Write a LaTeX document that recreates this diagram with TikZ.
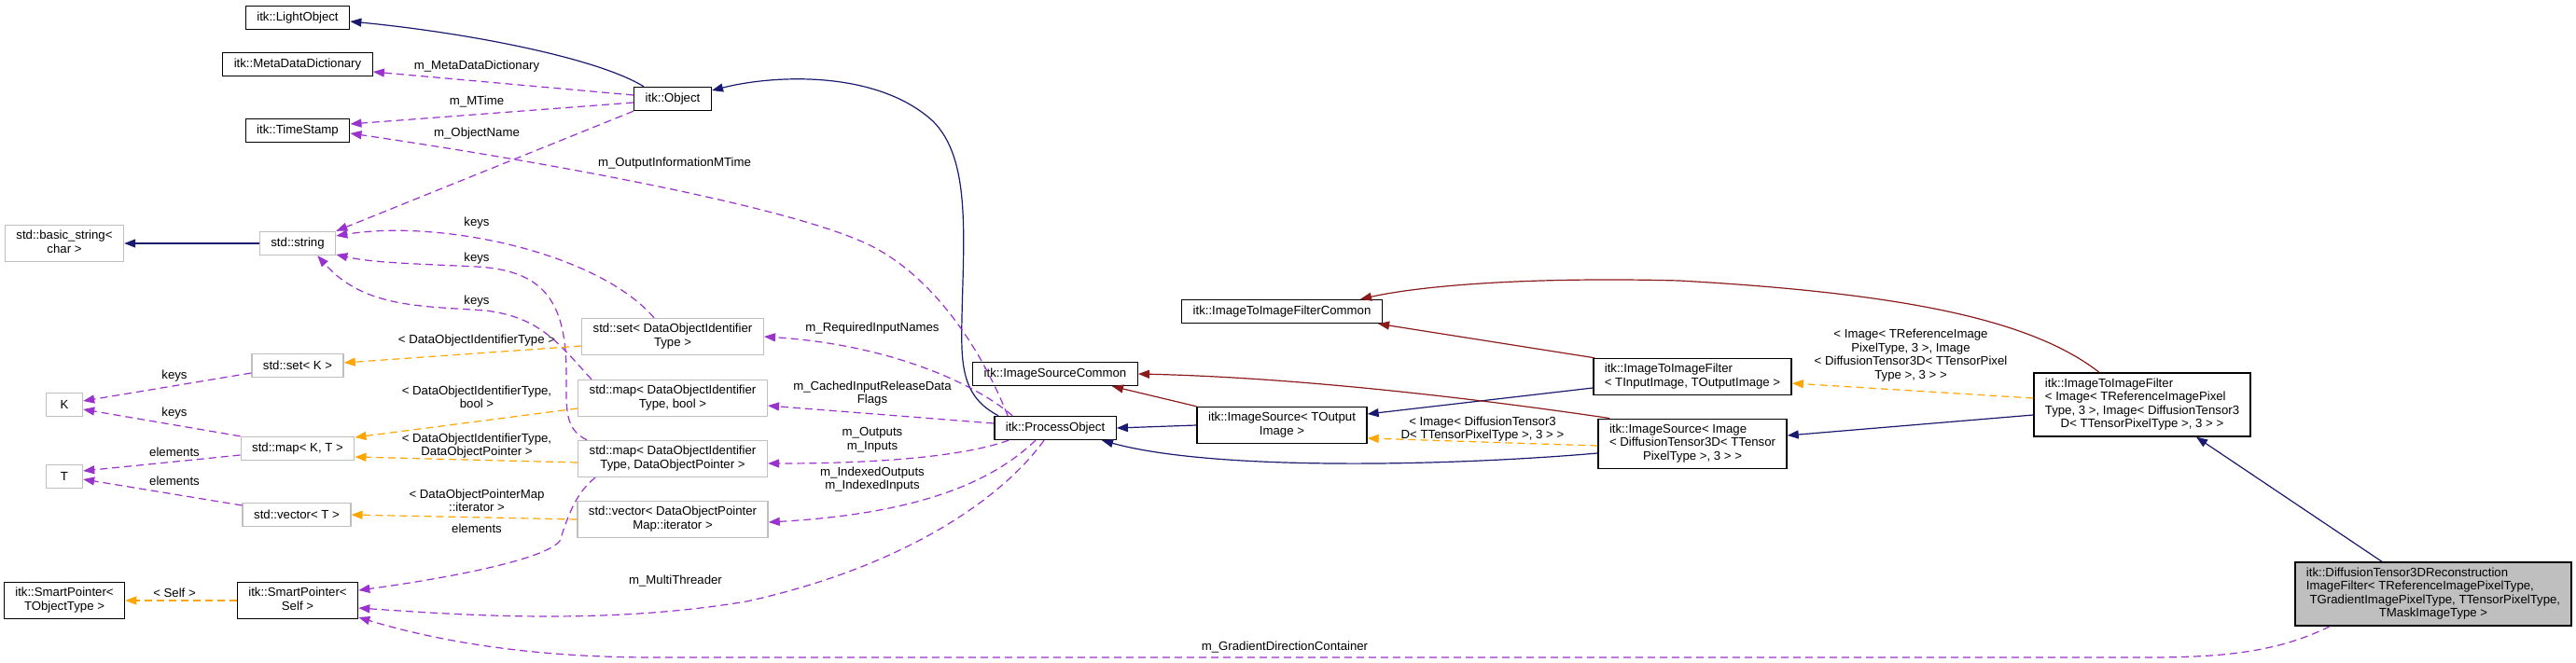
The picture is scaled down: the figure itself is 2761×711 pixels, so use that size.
\documentclass[tikz,border=0pt]{standalone}
\usepackage{fontspec}
\setmainfont{Liberation Sans}
\usetikzlibrary{arrows.meta}
\definecolor{inhblue}{HTML}{191970}
\definecolor{privred}{HTML}{8B1A1A}
\definecolor{usepurple}{HTML}{9A32CD}
\definecolor{tplorange}{HTML}{FFA500}
\definecolor{undocgray}{HTML}{BFBFBF}
% class name: first lines left, last line centred
\newcommand{\cname}[2]{\begin{tabular}{@{}l@{}}#1\\\multicolumn{1}{@{}c@{}}{#2}\end{tabular}}
\tikzset{
  cls/.style={draw=black, line width=1.4pt, fill=white, inner xsep=12pt, inner ysep=5pt, minimum height=25pt},
  undoc/.style={cls, draw=undocgray},
  cur/.style={cls, fill=undocgray},
  lbl/.style={inner sep=0pt, align=center},
  link/.style={line width=1.2pt, -{Triangle[length=12pt,width=9pt]}},
  inh/.style={link, inhblue},
  priv/.style={link, privred},
  uses/.style={link, usepurple, dash pattern=on 8pt off 5pt},
  tpl/.style={link, tplorange, dash pattern=on 8pt off 5pt}
}
\begin{document}
\begin{tikzpicture}[x=1pt, y=-1pt, font=\fontsize{13.2pt}{14.5pt}\selectfont]
  \useasboundingbox[fill=white] (0,0) rectangle (2761,711);
  % classes
  \node[cls] (light) at (319,19) {itk::LightObject};
  \node[cls] (mdd) at (319,69) {itk::MetaDataDictionary};
  \node[cls] (ts) at (319,140) {itk::TimeStamp};
  \node[undoc] (bstr) at (69,261) {\cname{std::basic\_string<}{char >}};
  \node[undoc] (str) at (319,261) {std::string};
  \node[cls] (obj) at (721,106) {itk::Object};
  \node[undoc] (setk) at (319,392) {std::set< K >};
  \node[undoc, minimum width=39pt] (K) at (69,434) {K};
  \node[undoc] (mapkt) at (319,481) {std::map< K, T >};
  \node[undoc, minimum width=39pt] (T) at (69,511) {T};
  \node[undoc] (vect) at (318,552) {std::vector< T >};
  \node[cls] (spt) at (69,644) {\cname{itk::SmartPointer<}{TObjectType >}};
  \node[cls] (sps) at (319,644) {\cname{itk::SmartPointer<}{Self >}};
  \node[undoc] (setdoi) at (721,361) {\cname{std::set< DataObjectIdentifier}{Type >}};
  \node[undoc] (mapbool) at (721,427) {\cname{std::map< DataObjectIdentifier}{Type, bool >}};
  \node[undoc] (mapdop) at (721,492) {\cname{std::map< DataObjectIdentifier}{Type, DataObjectPointer >}};
  \node[undoc] (vecdop) at (721,557) {\cname{std::vector< DataObjectPointer}{Map::iterator >}};
  \node[cls] (isc) at (1131,401) {itk::ImageSourceCommon};
  \node[cls] (po) at (1131,459) {itk::ProcessObject};
  \node[cls] (isout) at (1374,456) {\cname{itk::ImageSource< TOutput}{Image >}};
  \node[cls] (itifc) at (1374,334) {itk::ImageToImageFilterCommon};
  \node[cls] (itif) at (1814,404) {\cname{itk::ImageToImageFilter}{< TInputImage, TOutputImage >}};
  \node[cls] (isimg) at (1814,476) {\cname{itk::ImageSource< Image\\< DiffusionTensor3D< TTensor}{PixelType >, 3 > >}};
  \node[cls] (bigitif) at (2296,434) {\cname{itk::ImageToImageFilter\\< Image< TReferenceImagePixel\\Type, 3 >, Image< DiffusionTensor3}{D< TTensorPixelType >, 3 > >}};
  \node[cur] (dti) at (2608,637) {\cname{itk::DiffusionTensor3DReconstruction\\ImageFilter< TReferenceImagePixelType,\\\ TGradientImagePixelType, TTensorPixelType,}{TMaskImageType >}};

  % edge labels
  \node[lbl] (lMdd) at (511,71) {m\_MetaDataDictionary};
  \node[lbl] (lMTime) at (511,109) {m\_MTime};
  \node[lbl] (lObjName) at (511,143) {m\_ObjectName};
  \node[lbl] (lOutInfo) at (723,175) {m\_OutputInformationMTime};
  \node[lbl] (lKeysA) at (511,239) {keys};
  \node[lbl] (lKeysB) at (511,277) {keys};
  \node[lbl] (lKeysC) at (511,323) {keys};
  \node[lbl] (lSetK) at (511,365) {< DataObjectIdentifierType >};
  \node[lbl] (lMapBool) at (511,426) {< DataObjectIdentifierType,\\ bool >};
  \node[lbl] (lMapDop) at (511,478) {< DataObjectIdentifierType,\\ DataObjectPointer >};
  \node[lbl] (lVecDop) at (511,537) {< DataObjectPointerMap\\ ::iterator >};
  \node[lbl] (lElem) at (511,567) {elements};
  \node[lbl] (lKeysK) at (187,403) {keys};
  \node[lbl] (lKeysKT) at (187,443) {keys};
  \node[lbl] (lElemKT) at (187,485) {elements};
  \node[lbl] (lElemT) at (187,516) {elements};
  \node[lbl] (lSelf) at (187,636) {< Self >};
  \node[lbl] (lReqIn) at (935,352) {m\_RequiredInputNames};
  \node[lbl] (lCached) at (935,422) {m\_CachedInputReleaseData\\Flags};
  \node[lbl] (lOutIn) at (935,472) {m\_Outputs\\m\_Inputs};
  \node[lbl] (lIdx) at (935,514) {m\_IndexedOutputs\\m\_IndexedInputs};
  \node[lbl] (lMT) at (724,623) {m\_MultiThreader};
  \node[lbl] (lGrad) at (1377,694) {m\_GradientDirectionContainer};
  \node[lbl] (lDT3) at (1589,460) {< Image< DiffusionTensor3\\D< TTensorPixelType >, 3 > >};
  \node[lbl] (lBig) at (2048,381) {< Image< TReferenceImage\\PixelType, 3 >, Image\\< DiffusionTensor3D< TTensorPixel\\Type >, 3 > >};

  % public inheritance
  \draw[inh] ([xshift=11pt]obj.north west) .. controls (640,62) and (500,35) .. ([yshift=-4pt]light.east);
  \draw[inh] ([xshift=5pt]po.north west) .. controls (1030,425) and (1030,390) .. (1031,340)
    .. controls (1033,250) and (1040,170) .. (1000,130) .. controls (940,75) and (830,80) .. ([yshift=9pt]obj.east);
  \draw[inh] (str.west) -- (bstr.east);
  \draw[inh] (isout.west) -- (po.east);
  \draw[inh] ([yshift=-12pt]itif.west) -- ([yshift=12pt]isout.east);
  \draw[inh] ([yshift=-10pt]isimg.west) .. controls (1550,500) and (1300,505) .. ([xshift=50pt]po.south);
  \draw[inh] ([yshift=-11pt]bigitif.west) -- ([yshift=9pt]isimg.east);
  \draw[inh] ([xshift=-55pt]dti.north) -- ([xshift=58pt]bigitif.south);

  % private inheritance
  \draw[priv] ([xshift=2pt]itif.north west) -- ([xshift=-5pt]itifc.south east);
  \draw[priv] (isout.north west) -- ([xshift=-28pt]isc.south east);
  \draw[priv] ([xshift=13pt]isimg.north west) .. controls (1600,430) and (1400,405) .. (isc.east);
  \draw[priv] ([xshift=-46pt]bigitif.north) .. controls (2180,345) and (2050,315) .. (1800,301)
    .. controls (1650,297) and (1530,305) .. ([xshift=-24pt]itifc.north east);

  % usage
  \draw[uses] ([yshift=4pt]obj.west) -- ([yshift=-8pt]mdd.east);
  \draw[uses] ([yshift=-4pt]obj.west) -- ([yshift=7pt]ts.east);
  \draw[uses] (obj.south west) -- (str.north east);
  \draw[uses] ([xshift=15pt]po.north west) .. controls (1050,370) and (1000,300) .. (940,267)
    .. controls (860,222) and (560,170) .. ([yshift=-3pt]ts.east);
  \draw[uses] ([xshift=20pt]po.north west) .. controls (1050,415) and (960,370) .. (setdoi.east);
  \draw[uses] ([yshift=5pt]po.west) -- ([yshift=-8pt]mapbool.east);
  \draw[uses] ([xshift=16pt]po.south west) .. controls (1040,487) and (960,497) .. ([yshift=-5pt]mapdop.east);
  \draw[uses] ([xshift=-21pt]po.south) .. controls (1070,510) and (1000,550) .. ([yshift=-3pt]vecdop.east);
  \draw[uses] ([xshift=-12pt]po.south) .. controls (1070,540) and (960,610) .. (800,645)
    .. controls (650,670) and (500,660) .. ([yshift=-8pt]sps.east);
  \draw[uses] ([xshift=38pt]dti.south west) .. controls (2440,700) and (2380,705) .. (2300,705) -- (700,705)
    .. controls (560,705) and (460,685) .. ([yshift=-18pt]sps.east);
  \draw[uses] ([yshift=-8pt]setk.west) -- ([yshift=4pt]K.east);
  \draw[uses] (mapkt.north west) -- ([yshift=-5pt]K.east);
  \draw[uses] ([yshift=-7pt]mapkt.west) -- ([yshift=6pt]T.east);
  \draw[uses] ([yshift=10pt]vect.west) -- ([yshift=-3pt]T.east);
  \draw[uses] ([xshift=-83pt]mapdop.south) .. controls (615,530) and (607,560) .. (600,580)
    .. controls (585,600) and (480,620) .. ([yshift=11pt]sps.east);
  \draw[uses] ([xshift=-20pt]setdoi.north) .. controls (640,270) and (470,235) .. ([yshift=8pt]str.east);
  \draw[uses] ([xshift=-92pt]mapdop.north) .. controls (605,460) and (607,440) .. (607,400)
    .. controls (607,320) and (580,290) .. (511,286) .. controls (450,283) and (400,282) .. ([yshift=-12pt]str.east);
  \draw[uses] ([xshift=-87pt]mapbool.north) .. controls (600,370) and (580,340) .. (520,333)
    .. controls (450,328) and (390,330) .. ([xshift=-20pt]str.south east);

  % template instances
  \draw[tpl] ([yshift=-10pt]setdoi.west) -- ([yshift=3pt]setk.east);
  \draw[tpl] ([yshift=-11pt]mapbool.west) -- ([yshift=12pt]mapkt.east);
  \draw[tpl] ([yshift=-4pt]mapdop.west) -- ([yshift=-9pt]mapkt.east);
  \draw[tpl] (vecdop.west) -- (vect.east);
  \draw[tpl] (sps.west) -- (spt.east);
  \draw[tpl] ([yshift=7pt]bigitif.west) -- ([yshift=-7pt]itif.east);
  \draw[tpl] ([yshift=-2pt]isimg.west) -- ([yshift=-14pt]isout.east);
\end{tikzpicture}
\end{document}
